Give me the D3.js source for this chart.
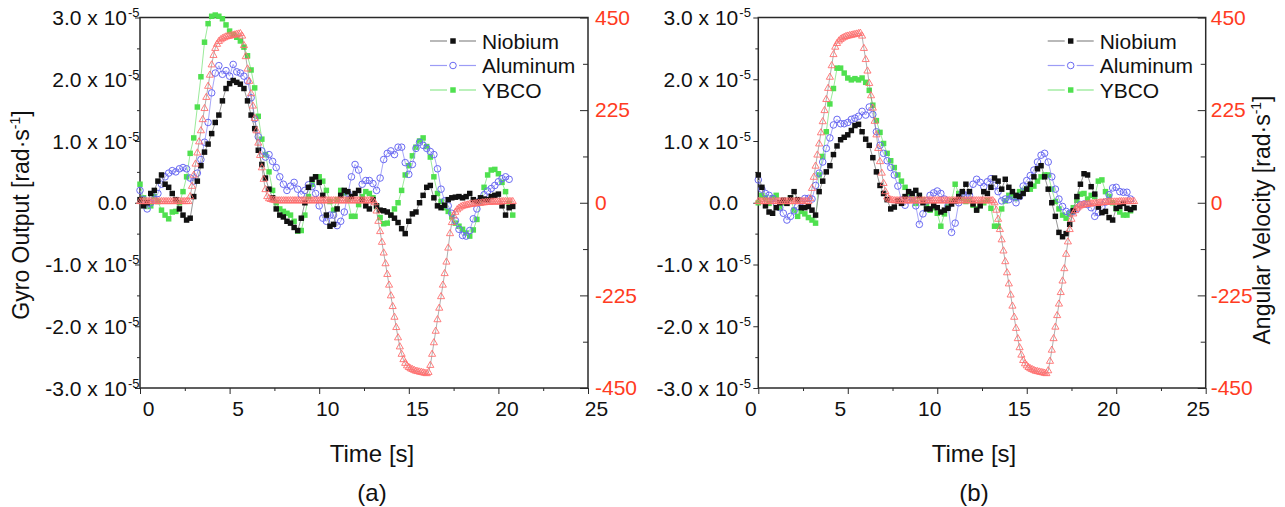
<!DOCTYPE html>
<html>
<head>
<meta charset="utf-8">
<script src="https://cdn.jsdelivr.net/npm/d3@7"></script>
<style>
  body { margin: 0; background: #fff; }
  text { font-family: "Liberation Sans", Arial, sans-serif; }
</style>
</head>
<body>
<svg id="chart" width="1285" height="507"></svg>
<script>
// gyro output in units of 1e-5 rad/s, sampled every 0.2 s; angular velocity sampled every 0.1 s
const dtGyro = 0.2;
const dtVel = 0.1;

const niobiumA = [
  0.05,-0.05,0.0,0.15,0.2,0.35,0.45,0.3,0.25,0.15,
  0.05,-0.1,-0.2,-0.28,-0.25,0.1,0.35,0.6,0.82,0.95,
  1.12,1.3,1.42,1.65,1.85,1.93,1.98,1.95,1.92,1.85,
  1.65,1.42,1.2,0.85,0.62,0.4,0.22,0.08,-0.1,-0.2,
  -0.23,-0.3,-0.33,-0.4,-0.45,-0.25,0.0,0.25,0.38,0.42,
  0.33,0.12,-0.2,-0.38,-0.35,-0.1,0.12,0.2,0.18,0.1,
  0.15,0.2,0.05,-0.05,-0.1,0.05,-0.05,-0.12,-0.13,-0.15,
  -0.2,-0.25,-0.32,-0.42,-0.5,-0.3,-0.18,-0.15,0.0,0.12,
  0.25,0.28,0.08,-0.05,-0.08,-0.04,0.05,0.08,0.09,0.1,
  0.08,0.1,0.15,0.05,0.02,0.08,0.06,0.05,0.1,0.12,
  0.14,-0.05,-0.2,-0.08,-0.06
];
const aluminumA = [
  0.2,0.05,-0.1,0.0,0.05,0.15,0.3,0.42,0.48,0.52,
  0.5,0.55,0.57,0.55,0.4,0.35,0.48,0.7,0.98,1.3,
  1.78,2.1,2.22,2.08,2.14,2.05,2.24,2.12,2.1,2.05,
  1.97,1.7,1.36,1.07,0.84,0.74,0.78,0.67,0.57,0.42,
  0.3,0.2,0.27,0.33,0.22,0.13,0.2,0.29,0.26,0.15,
  -0.05,-0.25,-0.3,-0.2,-0.2,-0.37,-0.3,-0.15,0.15,0.42,
  0.62,0.53,0.3,0.36,0.36,0.31,0.2,0.4,0.7,0.8,
  0.84,0.78,0.9,0.9,0.65,0.46,0.62,0.88,0.98,0.93,
  0.88,0.83,0.78,0.55,0.22,0.03,-0.05,-0.17,-0.29,-0.43,
  -0.53,-0.54,-0.45,-0.26,-0.1,0.04,0.13,0.19,0.23,0.28,
  0.34,0.39,0.42,0.38
];
const ybcoA = [
  0.3,0.08,-0.06,-0.05,0.1,0.02,-0.12,-0.2,-0.26,-0.15,
  -0.14,0.0,0.18,0.42,0.8,1.05,1.55,2.04,2.6,2.9,
  3.02,3.04,3.02,2.98,2.88,2.78,2.72,2.68,2.62,2.52,
  2.38,2.15,1.86,1.4,1.03,0.78,0.5,0.2,0.0,-0.1,
  -0.14,-0.17,-0.2,-0.3,-0.46,-0.45,-0.2,0.1,0.3,0.42,
  0.42,0.35,0.2,0.02,-0.12,0.05,0.2,0.16,0.05,-0.22,
  -0.22,-0.03,0.1,0.18,0.15,0.08,-0.06,-0.24,-0.34,-0.33,
  -0.2,-0.1,0.0,0.2,0.45,0.6,0.76,0.9,1.0,1.05,
  0.91,0.74,0.42,0.15,0.02,-0.08,-0.14,-0.23,-0.33,-0.38,
  -0.43,-0.49,-0.54,-0.44,-0.27,0.0,0.25,0.45,0.53,0.54,
  0.47,0.33,0.18,-0.01,-0.2
];
const velocityA = [
  3,3,3,3,3,3,3,3,3,3,
  3,3,3,3,3,3,3,3,3,3,
  3,3,3,3,3,3,3,3,15,40,
  67,94,121,148,175,202,229,256,283,310,
  335,358,375,385,392,396,399,401,403,404,
  405,406,407,408,409,410,411,405,382,355,
  325,295,265,235,205,175,145,115,85,57,
  32,15,10,8,7,6,5,5,5,5,
  5,5,5,5,5,5,5,5,5,5,
  5,5,5,5,5,5,5,5,5,5,
  5,5,5,5,5,5,5,5,5,5,
  5,5,5,5,5,5,5,5,5,5,
  5,5,5,5,5,5,5,5,5,5,
  5,0,-20,-45,-70,-96,-122,-148,-174,-200,
  -226,-252,-278,-303,-328,-350,-368,-381,-390,-396,
  -400,-403,-405,-407,-409,-410,-411,-412,-413,-414,
  -415,-412,-395,-368,-340,-312,-284,-256,-228,-200,
  -172,-144,-110,-75,-48,-32,-23,-17,-13,-10,
  -8,-7,-6,-5,-4,-3,-3,-2,-2,-1,
  -1,0,0,1,1,1,2,2,2,2,
  2,2,3,3,3,3,3,3,3
];

const niobiumB = [
  0.45,0.25,-0.05,-0.15,-0.17,-0.08,0.0,0.04,-0.01,0.08,
  0.18,0.05,-0.08,-0.08,-0.06,-0.12,-0.2,0.18,0.35,0.5,
  0.6,0.78,0.92,1.02,1.06,1.1,1.17,1.25,1.27,1.15,
  1.03,0.93,0.73,0.5,0.28,0.15,0.05,-0.1,-0.07,0.03,
  -0.01,0.1,0.18,0.15,0.2,0.12,0.0,-0.1,-0.1,-0.05,
  -0.08,-0.15,-0.12,-0.09,-0.02,0.03,0.1,0.18,0.3,0.18,
  -0.02,-0.12,-0.05,0.18,0.15,0.25,0.4,0.35,0.22,0.38,
  0.25,0.18,0.12,0.1,0.15,0.22,0.3,0.42,0.55,0.6,
  0.42,0.22,0.0,-0.22,-0.48,-0.55,-0.5,-0.35,-0.13,0.1,
  0.3,0.47,0.45,0.26,0.14,-0.07,-0.16,-0.14,-0.24,-0.28,
  -0.09,-0.06,-0.01,-0.09,-0.11,-0.08
];
const aluminumB = [
  0.37,0.22,0.15,0.12,0.07,0.0,-0.08,-0.17,-0.28,-0.22,
  -0.13,-0.06,0.02,0.07,0.07,0.06,0.28,0.48,0.66,0.88,
  1.05,1.26,1.35,1.28,1.28,1.3,1.35,1.37,1.4,1.48,
  1.42,1.55,1.43,1.15,0.93,0.8,0.68,0.57,0.45,0.27,
  0.04,-0.04,0.05,0.08,-0.05,-0.35,-0.18,0.03,0.12,0.16,
  0.19,0.15,0.06,-0.05,-0.48,-0.33,0.0,0.15,0.12,0.12,
  0.3,0.38,0.33,0.26,0.34,0.39,0.28,0.18,0.03,0.06,
  0.05,0.1,0.0,0.1,0.27,0.36,0.44,0.53,0.66,0.77,
  0.8,0.66,0.42,0.22,0.06,-0.06,-0.14,-0.17,-0.14,-0.1,
  -0.03,-0.02,-0.03,-0.08,-0.22,-0.16,-0.07,0.01,0.13,0.24,
  0.25,0.18,0.17,0.17,0.06
];
const ybcoB = [
  0.0,0.12,0.08,-0.01,0.08,0.12,-0.08,0.0,0.0,0.08,
  -0.12,-0.22,-0.14,-0.18,-0.24,-0.28,-0.33,0.45,0.75,1.15,
  1.6,1.85,2.18,2.18,2.1,2.02,1.99,2.01,1.99,2.02,
  1.95,1.82,1.58,1.33,1.14,0.96,0.8,0.68,0.57,0.45,
  0.35,0.25,0.12,0.06,-0.01,0.1,0.05,-0.04,-0.12,-0.08,
  -0.17,-0.38,-0.18,-0.06,0.03,0.3,0.15,0.07,0.02,0.04,
  -0.04,-0.1,-0.02,0.0,0.04,-0.09,-0.38,-0.38,-0.1,0.03,
  0.12,0.1,0.07,0.18,0.2,0.23,0.22,0.27,0.35,0.42,
  0.45,0.45,0.22,0.02,-0.1,-0.2,-0.25,-0.17,-0.08,0.04,
  0.14,0.15,0.06,0.12,0.1,0.35,0.37,0.18,0.1,0.0,
  -0.1,-0.15,-0.2,-0.2,-0.13
];
const velocityB = [
  3,3,3,3,3,3,3,3,3,3,
  3,3,3,3,3,3,3,3,3,3,
  3,3,3,3,3,3,3,3,3,10,
  35,62,89,116,143,170,197,224,251,278,
  305,333,360,378,387,393,397,400,402,404,
  405,406,407,408,409,410,411,412,405,375,
  348,320,290,260,230,198,165,132,100,72,
  47,27,14,9,7,6,5,5,5,5,
  5,5,5,5,5,5,5,5,5,5,
  5,5,5,5,5,5,5,5,5,5,
  5,5,5,5,5,5,5,5,5,5,
  5,5,5,5,5,5,5,5,5,5,
  5,5,5,5,5,5,5,5,5,5,
  5,5,0,-18,-40,-65,-90,-117,-143,-170,
  -197,-224,-251,-278,-305,-330,-352,-370,-383,-391,
  -396,-400,-403,-405,-407,-409,-410,-411,-412,-413,
  -414,-415,-408,-385,-358,-330,-302,-274,-246,-218,
  -190,-160,-125,-95,-65,-40,-27,-19,-13,-10,
  -7,-6,-5,-4,-3.5,-3,-2.5,-2,-1.5,-1,
  -1,0,0,1,1,1,2,2,2,2,
  2,2,3,3,3,3,3,3,3,3,3
];

const xTicks = [0, 5, 10, 15, 20, 25];
const xMinor = [2.5, 7.5, 12.5, 17.5, 22.5];
const yTicks = [-3, -2, -1, 0, 1, 2, 3];
const yMinor = [-2.5, -1.5, -0.5, 0.5, 1.5, 2.5];
const rTicks = [-450, -225, 0, 225, 450];
const rMinor = [-337.5, -112.5, 112.5, 337.5];
const seriesNames = ["Niobium", "Aluminum", "YBCO"];

const svg = d3.select("#chart");
const plotTop = 17.5, plotBottom = 388;
const axisColor = "#2a2a2a";
const red = "#ff3b22";

const styles = {
  Niobium: { line: "#8a8a8a", fill: "#111", stroke: "none", shape: d3.symbolSquare, size: 30 },
  Aluminum: { line: "#9c9cf6", fill: "none", stroke: "#6a6af2", shape: d3.symbolCircle, size: 34 },
  YBCO: { line: "#8ee88e", fill: "#4fe04f", stroke: "none", shape: d3.symbolSquare, size: 30 }
};

const toPoints = (vals, dt) => vals.map((v, i) => ({ t: i * dt, v: v }));

function drawPanel(p) {
  const x = d3.scaleLinear().domain([0, 25]).range([p.left, p.right]);
  const y = d3.scaleLinear().domain([-3, 3]).range([plotBottom, plotTop]);
  const yR = d3.scaleLinear().domain([-450, 450]).range([plotBottom, plotTop]);
  const g = svg.append("g");

  // bottom axis, major + minor
  const bx = g.append("g").attr("transform", `translate(0,${plotBottom})`)
    .call(d3.axisBottom(x).tickValues(xTicks).tickSize(6).tickSizeOuter(0).tickPadding(7));
  bx.attr("color", axisColor).attr("font-size", 21);
  bx.select(".domain").remove();
  bx.selectAll("text").attr("fill", "#111").attr("dx", p.xLabDx);
  g.append("g").attr("transform", `translate(0,${plotBottom})`)
    .call(d3.axisBottom(x).tickValues(xMinor).tickSize(3).tickFormat(""))
    .attr("color", axisColor).select(".domain").remove();

  // left axis
  const ly = g.append("g").attr("transform", `translate(${p.left},0)`)
    .call(d3.axisLeft(y).tickValues(yTicks).tickSize(5).tickSizeOuter(0).tickFormat(""));
  ly.attr("color", axisColor).select(".domain").remove();
  g.append("g").attr("transform", `translate(${p.left},0)`)
    .call(d3.axisLeft(y).tickValues(yMinor).tickSize(3).tickFormat(""))
    .attr("color", axisColor).select(".domain").remove();

  const labEnd = p.left + p.yLabOff;
  yTicks.forEach(v => {
    const main = v === 0 ? "0.0" : `${v < 0 ? "-" : ""}${Math.abs(v).toFixed(1)} x 10`;
    g.append("text").attr("x", labEnd).attr("y", y(v) + 7.5)
      .attr("text-anchor", "end").attr("font-size", 21).attr("fill", "#111").text(main);
    if (v !== 0) {
      g.append("text").attr("x", labEnd + 1).attr("y", y(v) - 0.5)
        .attr("font-size", 13).attr("fill", "#111").text("-5");
    }
  });

  // right axis (angular velocity), ticks point inward
  const ry = g.append("g").attr("transform", `translate(${p.right},0)`)
    .call(d3.axisRight(yR).tickValues(rTicks).tickSize(-8).tickSizeOuter(0).tickPadding(p.rPad)
      .tickFormat(d => d < 0 ? "-" + Math.abs(d) : String(d)));
  ry.attr("color", axisColor).attr("font-size", 21);
  ry.select(".domain").remove();
  ry.selectAll("text").attr("fill", red).attr("x", p.rPad);
  g.append("g").attr("transform", `translate(${p.right},0)`)
    .call(d3.axisRight(yR).tickValues(rMinor).tickSize(-5).tickFormat(""))
    .attr("color", axisColor).select(".domain").remove();

  // frame
  g.append("rect").attr("x", p.left).attr("y", plotTop)
    .attr("width", p.right - p.left).attr("height", plotBottom - plotTop)
    .attr("fill", "none").attr("stroke", axisColor).attr("stroke-width", 1.5);

  // data series
  const line = d3.line().x(d => x(d.t)).y(d => y(d.v));
  const drawSeries = (name, vals) => {
    const s = styles[name];
    const pts = toPoints(vals, dtGyro);
    g.append("path").datum(pts).attr("d", line)
      .attr("fill", "none").attr("stroke", s.line).attr("stroke-width", 0.9);
    g.append("g").selectAll("path").data(pts).join("path")
      .attr("d", d3.symbol(s.shape, s.size))
      .attr("transform", d => `translate(${x(d.t)},${y(d.v)})`)
      .attr("fill", s.fill).attr("stroke", s.stroke).attr("stroke-width", 1);
  };
  drawSeries("YBCO", p.ybco);
  drawSeries("Aluminum", p.aluminum);
  drawSeries("Niobium", p.niobium);

  const velPts = toPoints(p.velocity, dtVel);
  g.append("path").datum(velPts)
    .attr("d", d3.line().x(d => x(d.t)).y(d => yR(d.v)))
    .attr("fill", "none").attr("stroke", "#777").attr("stroke-width", 0.6);
  g.append("g").selectAll("path").data(velPts).join("path")
    .attr("d", d3.symbol(d3.symbolTriangle, 22))
    .attr("transform", d => `translate(${x(d.t)},${yR(d.v)})`)
    .attr("fill", "none").attr("stroke", "#ff6f6f").attr("stroke-width", 0.9);

  // legend
  const lg = g.append("g");
  seriesNames.forEach((name, i) => {
    const s = styles[name];
    const cy = 41 + i * 24.5;
    const x0 = p.right - 158, x1 = p.right - 112, xm = p.right - 135;
    lg.append("line").attr("x1", x0).attr("x2", xm - 6).attr("y1", cy).attr("y2", cy)
      .attr("stroke", s.line).attr("stroke-width", 1.2);
    lg.append("line").attr("x1", xm + 6).attr("x2", x1).attr("y1", cy).attr("y2", cy)
      .attr("stroke", s.line).attr("stroke-width", 1.2);
    lg.append("path").attr("d", d3.symbol(s.shape, s.size)())
      .attr("transform", `translate(${xm},${cy})`)
      .attr("fill", s.fill).attr("stroke", s.stroke);
    lg.append("text").attr("x", p.right - 106).attr("y", cy + 7.5)
      .attr("font-size", 21).attr("fill", "#111").text(name);
  });

  // titles
  const cx = (p.left + p.right) / 2;
  g.append("text").attr("x", cx + p.xLabDx).attr("y", 462).attr("text-anchor", "middle")
    .attr("font-size", 24).attr("fill", "#111").text("Time [s]");
  g.append("text").attr("x", cx + p.xLabDx).attr("y", 501).attr("text-anchor", "middle")
    .attr("font-size", 24).attr("fill", "#111").text(p.tag);

  const unitTitle = (tx, ty, label) => {
    const t = g.append("text").attr("transform", `translate(${tx},${ty}) rotate(-90)`)
      .attr("text-anchor", "middle").attr("font-size", 23).attr("fill", "#111");
    t.append("tspan").text(label + " [rad·s");
    t.append("tspan").attr("dy", -9).attr("font-size", 14).text("-1");
    t.append("tspan").attr("dy", 9).text("]");
  };
  if (p.leftTitle) unitTitle(29, 215, "Gyro Output");
  if (p.rightTitle) unitTitle(1270, 220, "Angular Velocity");
}

drawPanel({
  left: 140, right: 588, xLabDx: 8, yLabOff: -13, rPad: 7, tag: "(a)",
  niobium: niobiumA, aluminum: aluminumA, ybco: ybcoA, velocity: velocityA,
  leftTitle: true, rightTitle: false
});
drawPanel({
  left: 758.3, right: 1205.7, xLabDx: -8, yLabOff: -20, rPad: 5, tag: "(b)",
  niobium: niobiumB, aluminum: aluminumB, ybco: ybcoB, velocity: velocityB,
  leftTitle: false, rightTitle: true
});
</script>
</body>
</html>
